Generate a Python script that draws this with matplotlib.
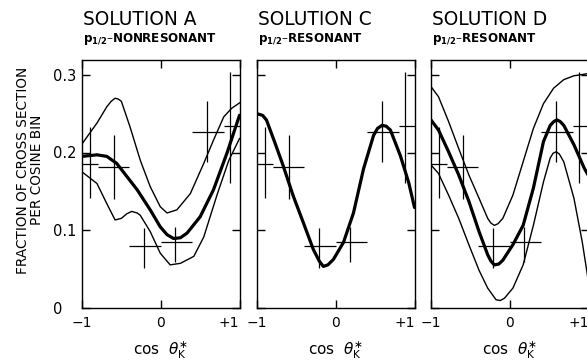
import matplotlib
matplotlib.use("Agg")
import matplotlib.pyplot as plt

# ---------------- data ----------------
bin_edges = [-1.0, -0.8, -0.4, 0.0, 0.4, 0.8, 1.0]
cos_centers = [-0.90, -0.60, -0.21, 0.18, 0.59, 0.875]
frac = [0.185, 0.181, 0.080, 0.084, 0.226, 0.234]
err_lo = [0.044, 0.041, 0.029, 0.025, 0.038, 0.074]
err_hi = [0.048, 0.042, 0.023, 0.020, 0.040, 0.070]

titles = ["SOLUTION A", "SOLUTION C", "SOLUTION D"]
subtitles = ["NONRESONANT", "RESONANT", "RESONANT"]
xtick_vals = [-1, 0, 1]
xtick_labels = ["\u22121", "0", "+1"]
ytick_vals = [0.0, 0.1, 0.2, 0.3]
ytick_labels = ["0", "0.1", "0.2", "0.3"]

# Solution A curves
a_fit_x = [-1.0, -0.81, -0.685, -0.56, -0.43, -0.30, -0.134, -0.006, 0.08, 0.163, 0.25, 0.334, 0.50, 0.67, 0.84, 1.0]
a_fit_y = [0.195, 0.197, 0.195, 0.186, 0.169, 0.152, 0.126, 0.104, 0.094, 0.089, 0.090, 0.096, 0.117, 0.152, 0.199, 0.248]
a_hi_x = [-1.0, -0.81, -0.685, -0.63, -0.58, -0.54, -0.50, -0.39, -0.26, -0.134, -0.006, 0.08, 0.205, 0.376, 0.546, 0.67, 0.80, 0.90, 1.0]
a_hi_y = [0.211, 0.238, 0.259, 0.266, 0.270, 0.269, 0.266, 0.233, 0.190, 0.156, 0.130, 0.122, 0.126, 0.147, 0.186, 0.216, 0.246, 0.257, 0.264]
a_lo_x = [-1.0, -0.81, -0.685, -0.58, -0.50, -0.43, -0.37, -0.30, -0.26, -0.134, -0.006, 0.12, 0.25, 0.42, 0.546, 0.72, 0.865, 1.0]
a_lo_y = [0.175, 0.160, 0.134, 0.113, 0.115, 0.121, 0.124, 0.122, 0.119, 0.098, 0.070, 0.055, 0.057, 0.066, 0.091, 0.147, 0.190, 0.218]

# Solution C curve
c_fit_x = [-1.0, -0.93, -0.88, -0.774, -0.668, -0.54, -0.41, -0.285, -0.21, -0.158, -0.10, -0.03, 0.098, 0.225, 0.353, 0.48, 0.53, 0.587, 0.64, 0.694, 0.82, 0.927, 1.0]
c_fit_y = [0.250, 0.248, 0.242, 0.213, 0.183, 0.144, 0.109, 0.075, 0.060, 0.053, 0.055, 0.062, 0.084, 0.122, 0.179, 0.222, 0.231, 0.235, 0.234, 0.229, 0.196, 0.161, 0.129]

# Solution D curves
d_fit_x = [-1.0, -0.905, -0.777, -0.648, -0.519, -0.39, -0.28, -0.24, -0.196, -0.14, -0.088, 0.04, 0.17, 0.30, 0.428, 0.514, 0.56, 0.60, 0.64, 0.686, 0.815, 0.945, 1.0]
d_fit_y = [0.242, 0.229, 0.201, 0.171, 0.137, 0.098, 0.068, 0.060, 0.055, 0.056, 0.061, 0.081, 0.106, 0.154, 0.214, 0.235, 0.240, 0.242, 0.240, 0.235, 0.210, 0.180, 0.170]
d_hi_x = [-1.0, -0.905, -0.777, -0.648, -0.519, -0.39, -0.28, -0.24, -0.196, -0.15, -0.088, 0.04, 0.17, 0.30, 0.428, 0.557, 0.686, 0.815, 0.945, 1.0]
d_hi_y = [0.285, 0.272, 0.240, 0.205, 0.171, 0.141, 0.115, 0.109, 0.106, 0.108, 0.115, 0.145, 0.188, 0.231, 0.263, 0.283, 0.294, 0.299, 0.301, 0.302]
d_lo_x = [-1.0, -0.905, -0.777, -0.648, -0.519, -0.39, -0.28, -0.174, -0.12, -0.067, 0.04, 0.17, 0.30, 0.428, 0.514, 0.55, 0.59, 0.63, 0.686, 0.815, 0.92, 0.98, 1.0]
d_lo_y = [0.184, 0.173, 0.145, 0.115, 0.081, 0.048, 0.025, 0.010, 0.009, 0.012, 0.025, 0.055, 0.106, 0.162, 0.193, 0.199, 0.201, 0.198, 0.188, 0.141, 0.085, 0.046, 0.032]

panel_fits = [(a_fit_x, a_fit_y), (c_fit_x, c_fit_y), (d_fit_x, d_fit_y)]
panel_bands = [[(a_hi_x, a_hi_y), (a_lo_x, a_lo_y)], [], [(d_hi_x, d_hi_y), (d_lo_x, d_lo_y)]]

# ---------------- figure ----------------
W, H = 587, 364
fig = plt.figure(figsize=(W / 100, H / 100), dpi=100)
fig.patch.set_facecolor("white")
plt.rcParams["font.family"] = ["DejaVu Sans"]

lefts_px = [82, 257, 431]
width_px = 157.5
top_px, bot_px = 59.5, 307.5

xerr_lo = [c - bin_edges[i] for i, c in enumerate(cos_centers)]
xerr_hi = [bin_edges[i + 1] - c for i, c in enumerate(cos_centers)]

for k in range(3):
    ax = fig.add_axes([lefts_px[k] / W, (H - bot_px) / H, width_px / W, (bot_px - top_px) / H])
    ax.set_xlim(-1, 1)
    ax.set_ylim(0, 0.32)
    for s in ax.spines.values():
        s.set_linewidth(1.0)
    ax.errorbar(cos_centers, frac, yerr=[err_lo, err_hi], xerr=[xerr_lo, xerr_hi],
                fmt="none", ecolor="black", elinewidth=0.9, capsize=0)
    for bx, by in panel_bands[k]:
        ax.plot(bx, by, color="black", lw=1.0, solid_joinstyle="round")
    fx, fy = panel_fits[k]
    ax.plot(fx, fy, color="black", lw=2.3, solid_joinstyle="round", solid_capstyle="round")

    ax.set_xticks(xtick_vals)
    ax.set_xticklabels(xtick_labels, fontsize=10)
    xl = ax.get_xticklabels()
    xl[-1].set_horizontalalignment("right")
    ax.set_yticks(ytick_vals)
    ax.tick_params(axis="both", direction="in", length=5.5, width=1.0,
                   top=True, right=True)
    ax.tick_params(axis="x", pad=6)
    if k == 0:
        ax.set_yticklabels(ytick_labels, fontsize=10.5)
        ax.tick_params(axis="y", pad=21)
        for lab in ax.get_yticklabels():
            lab.set_horizontalalignment("left")
    else:
        ax.set_yticklabels([])
    ax.set_xlabel(r"cos  $\theta^{\ast}_{\mathrm{K}}$", fontsize=11, labelpad=7)

    # titles
    fig.text((lefts_px[k] + 1) / W, (H - 25) / H, titles[k], fontsize=13.4,
             ha="left", va="baseline")
    fig.text((lefts_px[k] + 1) / W, (H - 42) / H,
             r"p$_{\mathregular{1/2}}$" + "\u2013" + subtitles[k],
             fontsize=8.6, fontweight="bold", ha="left", va="baseline")

fig.text(30 / W, (H - 170) / H, "FRACTION OF CROSS SECTION\nPER COSINE BIN",
         rotation=90, ha="center", va="center", fontsize=9.8, linespacing=1.0,
         multialignment="center")

fig.savefig("out.png", dpi=100, facecolor="white")
